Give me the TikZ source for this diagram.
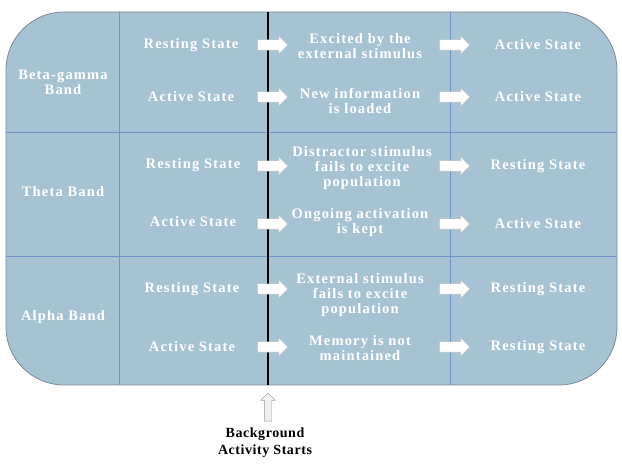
\documentclass[tikz,border=0pt]{standalone}
\usepackage{fontspec}
\setmainfont{Liberation Serif}
\newfontfamily\statefont{Liberation Serif}[LetterSpace=8]
\newfontfamily\footfont{Liberation Serif}[LetterSpace=4]
\usetikzlibrary{shapes.arrows}
\usetikzlibrary{positioning}
\definecolor{bandfill}{RGB}{165,195,211}
\definecolor{gridblue}{RGB}{110,148,200}
\definecolor{rimgray}{RGB}{125,138,150}

\begin{document}
\begin{tikzpicture}[
x=1pt, y=-1pt,
every node/.style={font=\statefont\bfseries\fontsize{14.5}{15}\selectfont, text=white, align=center, inner sep=0},
goarrow/.style={single arrow, draw=gray!45, fill=white, inner xsep=0, inner ysep=5pt, minimum height=30pt, single arrow head extend=3.5pt},
startarrow/.style={single arrow, rotate=90, draw=gray!80, fill=gray!12, inner xsep=0, inner ysep=3.5pt, minimum height=28pt, single arrow head extend=3.5pt}
]
\useasboundingbox (0,0) rectangle (622,465);
\draw[fill=bandfill, draw=rimgray, line width=0.8pt, rounded corners=58pt] (6,12) rectangle (617,385);
\draw[gridblue, line width=1pt] (119,12) -- (119,385) (450,12) -- (450,385) (6,133) -- (617,133) (6,257) -- (617,257);
\draw[line width=1.8pt] (268,12) -- (268,385);

\node (beta) at (63,82) {Beta-gamma\\Band};
\node (theta) at (63,192) {Theta Band};
\node (alpha) at (63,317) {Alpha Band};

\node (br) at (191,45) {Resting State};
\node (ba) at (191,97) {Active State};
\node (tr) at (193,165) {Resting State};
\node (ta) at (193,222) {Active State};
\node (ar) at (192,289) {Resting State};
\node (aa) at (192,347) {Active State};

\node (bx) at (360,46) {Excited by the\\external stimulus};
\node (bn) at (360,101) {New information\\is loaded};
\node (tx) at (362,168) {Distractor stimulus\\fails to excite\\population};
\node (tn) at (360,223) {Ongoing activation\\is kept};
\node (ax) at (360,295) {External stimulus\\fails to excite\\population};
\node (an) at (360,348) {Memory is not\\maintained};

\node (bro) at (538,45) {Active State};
\node (bao) at (538,97) {Active State};
\node (tro) at (538,166) {Resting State};
\node (tao) at (538,224) {Active State};
\node (aro) at (538,289) {Resting State};
\node (aao) at (538,347) {Resting State};

\foreach \y [count=\i] in {45,97,166,224,289,347} {
  \node[goarrow] (in\i) at (270,\y) {};
  \node[goarrow] (out\i) at (452,\y) {};
}

\node[startarrow] (start) at (268,409) {};
\node[text=black, font=\footfont\bfseries\fontsize{14}{17}\selectfont] (startlabel) at (265,443) {Background\\Activity Starts};
\end{tikzpicture}
\end{document}
